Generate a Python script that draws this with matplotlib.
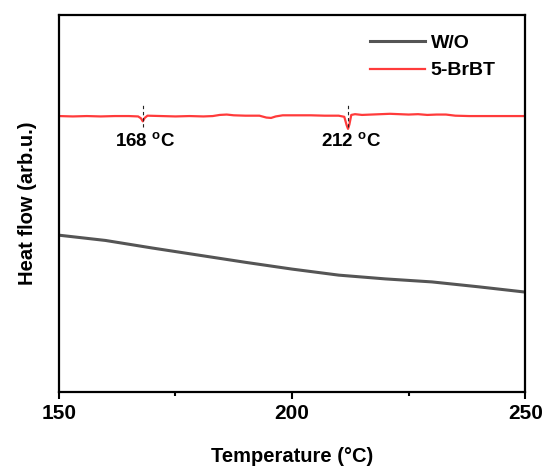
import matplotlib
matplotlib.use("Agg")
import matplotlib.pyplot as plt
from matplotlib.ticker import MultipleLocator

plt.rcParams['font.family'] = ['Liberation Sans', 'DejaVu Sans']
plt.rcParams['font.weight'] = 'bold'
plt.rcParams['mathtext.default'] = 'bf'

# W/O (black) series
t_wo = [150, 160, 170, 180, 190, 200, 210, 220, 230, 240, 250]
y_wo = [41.6, 40.2, 38.2, 36.3, 34.4, 32.6, 31.0, 30.0, 29.2, 27.9, 26.5]

# 5-BrBT (red) series
t_br = [150, 153, 156, 159, 162, 165, 167, 167.6, 168, 168.4, 169, 172, 175, 178, 181, 183,
        184.5, 186, 187.5, 190, 193, 194.5, 195.5, 196.5, 198, 201, 204, 207, 210, 211.2,
        211.7, 212.0, 212.3, 212.7, 213.5, 215, 217, 219, 221, 223, 225, 227, 229, 231,
        233, 235, 238, 241, 244, 247, 250]
y_br = [73.2, 73.1, 73.2, 73.1, 73.2, 73.2, 73.1, 72.6, 71.8, 72.7, 73.3, 73.2, 73.1, 73.2, 73.1, 73.2,
        73.5, 73.6, 73.4, 73.3, 73.3, 72.8, 72.7, 73.1, 73.4, 73.4, 73.4, 73.3, 73.3, 73.0,
        70.8, 69.8, 71.0, 73.5, 73.7, 73.5, 73.6, 73.7, 73.8, 73.7, 73.6, 73.7, 73.5, 73.6,
        73.6, 73.3, 73.2, 73.2, 73.2, 73.2, 73.2]

peaks = [168, 212]
peak_labels = ['168 $^{\\mathregular{o}}$C', '212 $^{\\mathregular{o}}$C']
xticks = [150, 200, 250]

fig = plt.figure(figsize=(5.5, 4.7), dpi=100)
ax = fig.add_axes([0.107, 0.166, 0.848, 0.802])

ax.plot(t_wo, y_wo, color='#555555', lw=2.2, label='W/O')
ax.plot(t_br, y_br, color='#ff3b3b', lw=1.6, label='5-BrBT')

for p, lab in zip(peaks, peak_labels):
    ax.plot([p, p], [70.3, 76.4], color='#222222', lw=0.8, ls=(0, (3, 2.5)))
    ax.text(p + 0.6, 66.5, lab, ha='center', va='center', fontsize=13.5, fontweight='bold')

ax.set_xlim(150, 250)
ax.set_ylim(0, 100)
ax.set_xticks(xticks)
ax.xaxis.set_minor_locator(MultipleLocator(25))
ax.set_yticks([])
ax.tick_params(axis='x', which='major', direction='out', length=5, width=1.5, labelsize=15, pad=4)
ax.tick_params(axis='x', which='minor', direction='out', length=3, width=1.5)
for lbl in ax.get_xticklabels():
    lbl.set_fontweight('bold')
for s in ax.spines.values():
    s.set_linewidth(1.6)

ax.set_xlabel('Temperature (°C)', fontsize=14.5, fontweight='bold', labelpad=17)
ax.set_ylabel('Heat flow (arb.u.)', fontsize=14.5, fontweight='bold', labelpad=16)

leg = ax.legend(loc='upper right', bbox_to_anchor=(0.974, 0.995), frameon=False, fontsize=14,
                handlelength=2.8, handletextpad=0.3, labelspacing=0.5, borderaxespad=0.5)
for txt in leg.get_texts():
    txt.set_fontweight('bold')

fig.savefig('out.png', dpi=100)
